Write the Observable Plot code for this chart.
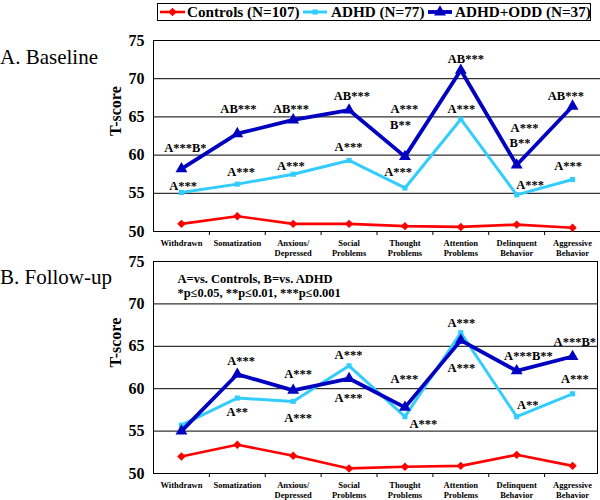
<!DOCTYPE html>
<html><head><meta charset="utf-8">
<script src="https://cdn.jsdelivr.net/npm/d3@7"></script>
<script src="https://cdn.jsdelivr.net/npm/@observablehq/plot@0.6"></script>
<style>
body{margin:0;background:#fff;}
#wrap{position:relative;width:600px;height:500px;font-family:"Liberation Serif","Times New Roman",serif;overflow:hidden;}
.ttl{position:absolute;left:0;font-size:21px;line-height:1;z-index:3;white-space:nowrap;}
#panelA{position:absolute;left:0;top:22px;}
#panelB{position:absolute;left:0;top:248px;}
#legend{position:absolute;left:0;top:0;}
#wrap svg text{font-weight:bold;}
</style></head>
<body>
<div id="wrap">
  <div id="legend"></div>
  <div id="panelA"></div>
  <div id="panelB"></div>
  <div class="ttl" style="top:46.7px">A. Baseline</div>
  <div class="ttl" style="top:267.4px">B. Follow-up</div>
</div>
<script>
// ---------- data ----------
const categories = ["Withdrawn","Somatization","Anxious/Depressed","Social Problems","Thought Problems","Attention Problems","Delinquent Behavior","Aggressive Behavior"];
const categoryLabels = ["Withdrawn","Somatization","Anxious/\nDepressed","Social\nProblems","Thought\nProblems","Attention\nProblems","Delinquent\nBehavior","Aggressive\nBehavior"];
const seriesNames = ["Controls (N=107)","ADHD (N=77)","ADHD+ODD (N=37)"];
const yTicks = [50,55,60,65,70,75];

const baselineControls = [51.0,52.0,51.0,51.0,50.7,50.6,50.9,50.5];
const baselineADHD     = [55.1,56.2,57.5,59.3,55.7,64.7,54.8,56.8];
const baselineADHDODD  = [58.2,62.8,64.6,65.9,59.8,71.1,58.7,66.4];

const followControls = [52.0,53.4,52.1,50.6,50.8,50.9,52.2,50.9];
const followADHD     = [55.7,58.9,58.5,62.7,56.7,66.6,56.7,59.4];
const followADHDODD  = [55.0,61.7,59.8,61.2,57.8,65.7,62.1,63.8];

// significance labels: [text, category index (label anchor), T-score anchor]
const annBaseline = [
  ["A***B*",0.07,60.95],["A***",0.03,56.0],
  ["AB***",1.02,66.0],["A***",1.07,57.8],
  ["AB***",1.96,66.0],["A***",1.96,58.6],
  ["AB***",3.05,67.7],["A***",2.99,61.0],
  ["A***",3.99,66.0],["B**",3.92,64.0],["A***",3.88,57.8],
  ["AB***",5.09,72.6],["A***",5.01,66.0],
  ["A***",6.14,63.5],["B**",6.06,61.6],["A***",6.24,56.1],
  ["AB***",6.88,67.7],["A***",6.92,58.6]
];
const annFollow = [
  ["A***",1.07,63.3],["A**",1.0,57.3],
  ["A***",2.09,61.7],["A***",2.09,56.6],
  ["A***",2.99,64.0],["A***",2.99,58.9],
  ["A***",3.99,61.1],["A***",4.33,55.8],
  ["A***",5.01,67.8],["A***",5.01,62.5],
  ["A***B**",6.21,63.9],["A**",6.2,58.1],
  ["A***B*",7.04,65.5],["A***",7.04,61.1]
];
const legendNote = "A=vs. Controls, B=vs. ADHD\n*p\u22640.05, **p\u22640.01, ***p\u22640.001";

// ---------- styles ----------
const colors = ["#FF0000","#33CCFF","#0000C0"];
const symbols = ["diamond2","square","triangle"];
const radii = [3.8,2.9,4.4];
const widths = [2.6,3,3.8];
const FONT = "Liberation Serif, Times New Roman, serif";

function rows(vals){ return categories.map((c,i)=>({i, v: vals[i]})); }

function panel(seriesVals, ann, opts){
  const n = categories.length;
  const xDomain = [-0.5, n-0.5];
  const bounds = d3.range(1, n).map(i => i - 0.5);
  const marks = [];
  const grid = yTicks.filter(t => t > 50);
  marks.push(Plot.ruleY(grid, {stroke:"#000", strokeWidth:1, insetRight: opts.box ? 3 : 0}));
  marks.push(Plot.ruleY([yTicks[0]], {stroke:"#000", strokeWidth:1, insetRight: opts.box ? 3 : 0}));
  marks.push(Plot.ruleX([xDomain[0]], {stroke:"#000", strokeWidth:1}));
  if (opts.box) marks.push(Plot.frame({stroke:"#000", strokeWidth:1, insetRight:3}));
  marks.push(Plot.axisY({ticks: yTicks, tickSize:0, tickPadding:9, fontSize:16, label:null}));
  marks.push(Plot.axisX({ticks: bounds, tickSize:4, tickFormat: () => "", label:null}));
  marks.push(Plot.axisX({ticks: d3.range(n), tickSize:0, tickPadding:7, tickFormat: i => categoryLabels[i], fontSize:8.5, lineHeight:1.18, label:null}));
  marks.push(Plot.text(["T-score"], {frameAnchor:"left", rotate:-90, dx:-38, fontSize:16}));
  seriesVals.forEach((vals, k) => {
    const d = rows(vals);
    marks.push(Plot.line(d, {x:"i", y:"v", stroke: colors[k], strokeWidth: widths[k]}));
    marks.push(Plot.dot(d, {x:"i", y:"v", fill: colors[k], stroke: "none", symbol: symbols[k], r: radii[k]}));
  });
  marks.push(Plot.text(ann, {x: d => d[1], y: d => d[2], text: d => d[0], fontSize:12.5, fill:"#000"}));
  if (opts.note) marks.push(Plot.text([opts.note], {frameAnchor:"top-left", textAnchor:"start", lineAnchor:"top", dx:24, dy:12, fontSize:12.5, lineHeight:1.12}));
  return Plot.plot({
    width: 600, height: opts.height,
    marginTop: opts.mt, marginBottom: 27, marginLeft: 153, marginRight: 0,
    style: {fontFamily: FONT, background: "transparent", color:"#000"},
    x: {domain: xDomain},
    y: {domain: [yTicks[0], yTicks[yTicks.length-1]]},
    marks
  });
}

document.getElementById("panelA").append(panel([baselineControls, baselineADHD, baselineADHDODD], annBaseline, {height:236, mt:18}));
document.getElementById("panelB").append(panel([followControls, followADHD, followADHDODD], annFollow, {height:252, mt:13, box:true, note: legendNote}));

// ---------- legend ----------
const leg = d3.create("svg").attr("width",600).attr("height",24).style("display","block");
leg.append("rect").attr("x",157.5).attr("y",3.5).attr("width",433).attr("height",17).attr("fill","none").attr("stroke","#000");
const items = [{x0:160,x1:185,tx:187},{x0:303,x1:327,tx:331},{x0:428,x1:452,tx:455}];
const d3sym = {diamond2: d3.symbolDiamond2, square: d3.symbolSquare, triangle: d3.symbolTriangle};
items.forEach((it,k)=>{
  leg.append("line").attr("x1",it.x0).attr("x2",it.x1).attr("y1",12).attr("y2",12).attr("stroke",colors[k]).attr("stroke-width",widths[k]);
  leg.append("path").attr("d", d3.symbol(d3sym[symbols[k]], Math.PI*radii[k]*radii[k])()).attr("transform",`translate(${(it.x0+it.x1)/2},12)`).attr("fill",colors[k]);
  leg.append("text").attr("x",it.tx).attr("y",16.5).attr("font-size",15.2).attr("font-family",FONT).attr("font-weight","bold").text(seriesNames[k]);
});
document.getElementById("legend").append(leg.node());
</script>
</body></html>
